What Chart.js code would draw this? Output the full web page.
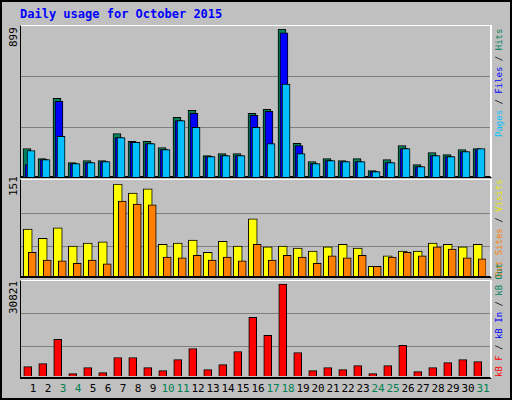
<!DOCTYPE html>
<html><head><meta charset="utf-8">
<script src="https://cdn.jsdelivr.net/npm/chart.js@4"></script>
<style>
html,body{margin:0;padding:0;}
body{width:512px;height:400px;position:relative;overflow:hidden;background:#c0c0c0;font-family:"DejaVu Sans Mono",monospace;}
#outer{position:absolute;left:0;top:0;width:508px;height:396px;border:2px solid #000;}
.panel{position:absolute;left:20px;width:472px;border-top:1px solid #fff;border-left:1px solid #000;border-right:2px solid #fff;border-bottom:2px solid #000;box-sizing:border-box;}
.grid{position:absolute;left:21px;width:469px;height:1px;background:#808080;}
canvas{position:absolute;}
.t{position:absolute;white-space:nowrap;font-size:11px;}
.rot{position:absolute;white-space:nowrap;font-size:9px;line-height:11px;transform-origin:0 0;transform:rotate(-90deg);}
.yl{font-size:11px;}
</style></head><body>
<div id="outer"></div>
<div class="t" style="left:20px;top:7px;color:#0000ff;font-weight:bold;font-size:12px;">Daily usage for October 2015</div>
<div class="panel" style="top:25px;height:153px;"></div>
<div class="panel" style="top:179px;height:99px;"></div>
<div class="panel" style="top:280px;height:99px;"></div>
<div class="grid" style="top:76px"></div><div class="grid" style="top:127px"></div>
<div class="grid" style="top:213px"></div><div class="grid" style="top:246px"></div>
<div class="grid" style="top:313px"></div><div class="grid" style="top:346px"></div>
<canvas id="c1" style="left:21px;top:29px;width:465px;height:148px"></canvas>
<canvas id="c2" style="left:21px;top:184px;width:465px;height:92px"></canvas>
<canvas id="c3" style="left:21px;top:284px;width:465px;height:92px"></canvas>
<div class="rot yl" style="left:8px;top:47px;">899</div>
<div class="rot yl" style="left:8px;top:196px;">151</div>
<div class="rot yl" style="left:8px;top:314px;">30821</div>
<div class="rot" style="left:494px;top:137px;"><span style="color:#00c0ff">Pages</span> / <span style="color:#0000ff">Files</span> / <span style="color:#00805c">Hits</span></div>
<div class="rot" style="left:494px;top:277px;"><span style="color:#ff8000">Out Sites</span> / <span style="color:#e8e800">Visits</span></div>
<div class="rot" style="left:494px;top:377px;"><span style="color:#ff0000">kB F</span> / <span style="color:#0000ff">kB In</span> / <span style="color:#00805c">kB Out</span></div>
<div id="xl"></div>
<script>
const days=[1,2,3,4,5,6,7,8,9,10,11,12,13,14,15,16,17,18,19,20,21,22,23,24,25,26,27,28,29,30,31];
const weekend=[3,4,10,11,17,18,24,25,31];
const hits=[173,112,478,87,100,100,264,216,216,179,362,405,130,142,142,387,411,899,204,94,112,100,112,39,106,191,75,149,136,167,173];
const files=[75,106,460,81,87,94,240,210,203,167,343,387,124,130,130,374,399,875,191,81,100,94,94,33,87,173,63,130,124,155,167];
const pages=[161,106,247,81,87,94,240,210,203,167,343,301,124,130,130,301,203,564,142,81,100,94,94,33,87,173,63,130,124,155,173];
const visits=[77,62,79,49,54,56,151,136,143,52,54,59,39,57,49,94,48,49,46,41,48,52,46,16,33,41,41,54,52,48,52];
const sites=[39,26,25,21,26,20,123,118,117,31,30,34,26,31,25,52,26,34,31,21,33,30,34,16,31,39,33,48,44,30,28];
const kbytes=[3150,4160,12260,790,2810,1125,6190,6190,2810,1800,5510,9220,2140,3820,8210,19690,13610,30821,7870,1800,2810,2140,3490,790,3490,10240,1460,2810,4500,5510,4840];
const maxTop=899, maxMid=151, maxBot=30821;

function ds(vals,off,color,w,ord){return{data:vals.map((v,i)=>({x:days[i]+off,y:v})),backgroundColor:color,borderColor:'#000',borderWidth:1,barThickness:w,grouped:false,order:ord,borderSkipped:'bottom'};}
function mk(id,sets,max){
  new Chart(document.getElementById(id),{type:'bar',data:{datasets:sets},
  options:{responsive:false,animation:false,events:[],layout:{padding:0},
  plugins:{legend:{display:false},tooltip:{enabled:false}},
  scales:{x:{type:'linear',min:0.5,max:31.5,offset:false,display:false},y:{min:0,max:max,display:false}}}});
}
['c1','c2','c3'].forEach(id=>{const c=document.getElementById(id);c.width=465;c.height=parseInt(c.style.height);});
mk('c1',[ds(hits,-0.1,'#00805c',8,3),ds(files,0.03,'#0000ff',8,2),ds(pages,0.17,'#00c0ff',8,1)],maxTop);
mk('c2',[ds(visits,-0.05,'#ffff00',9,2),ds(sites,0.25,'#ff8000',8,1)],maxMid);
mk('c3',[ds(kbytes,-0.05,'#ff0000',8,1)],maxBot);
const xl=document.getElementById('xl');
days.forEach((d,i)=>{const e=document.createElement('div');e.className='t';e.textContent=d;
 e.style.color=weekend.includes(d)?'#008050':'#000';e.style.top='382px';
 e.style.left=(33+15*i)+'px';e.style.transform='translateX(-50%)';xl.appendChild(e);});
</script>
</body></html>
